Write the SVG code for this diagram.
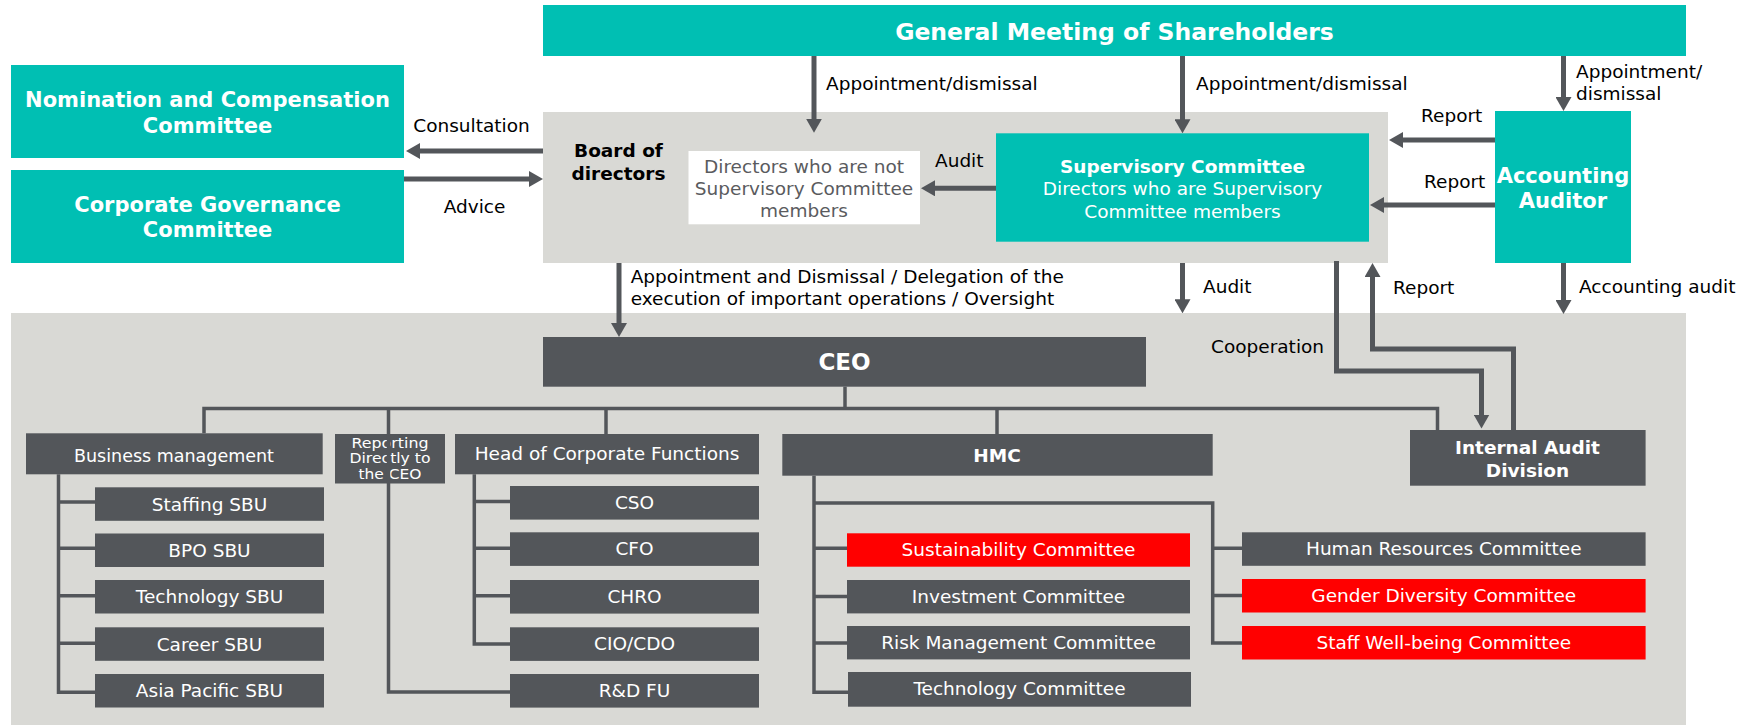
<svg xmlns="http://www.w3.org/2000/svg" width="1746" height="726" viewBox="0 0 1746 726">
  <style>
    text { font-family: "DejaVu Sans", Verdana, sans-serif; }
    .teal { fill: #00BFB3; }
    .dark { fill: #53565A; }
    .red { fill: #FF0000; }
    .bg { fill: #D9D9D5; }
    .white { fill: #FFFFFF; }
    .lbl { font-size: 18.5px; fill: #000; }
    .in { font-size: 18.5px; fill: #FFFFFF; text-anchor: middle; }
    .b { font-weight: bold; }
    .mid { text-anchor: middle; }
    .small { font-size: 13.5px; }
    .conn { stroke: #53565A; stroke-width: 5; fill: none; stroke-linejoin: miter; }
    .tree { stroke: #53565A; stroke-width: 3.5; fill: none; }
  </style>
  <defs>
    <marker id="arr" viewBox="0 0 14 16" refX="4" refY="8" markerWidth="14" markerHeight="16" markerUnits="userSpaceOnUse" orient="auto">
      <path d="M0,0 L14,8 L0,16 z" fill="#53565A"/>
    </marker>
  </defs>

  <!-- background panels -->
  <rect id="board-panel" class="bg" x="543" y="112" width="845" height="151"/>
  <rect id="execution-panel" class="bg" x="11" y="313" width="1675" height="412"/>

  <!-- top governance bodies -->
  <g id="gms">
    <rect class="teal" x="543" y="5" width="1143" height="51"/>
    <text class="in b" x="1114.5" y="40" style="font-size:23.5px">General Meeting of Shareholders</text>
  </g>
  <g id="nomination">
    <rect class="teal" x="11" y="65" width="393" height="93"/>
    <text class="in b" x="207.5" y="107.3" style="font-size:21px">Nomination and Compensation</text>
    <text class="in b" x="207.5" y="133.3" style="font-size:21px">Committee</text>
  </g>
  <g id="governance">
    <rect class="teal" x="11" y="170" width="393" height="93"/>
    <text class="in b" x="207.5" y="211.7" style="font-size:21px">Corporate Governance</text>
    <text class="in b" x="207.5" y="236.7" style="font-size:21px">Committee</text>
  </g>
  <g id="board">
    <text class="lbl b mid" x="618.5" y="157">Board of</text>
    <text class="lbl b mid" x="618.5" y="180">directors</text>
  </g>
  <g id="non-sc-directors">
    <rect class="white" x="688.5" y="151" width="231.5" height="73.3"/>
    <text class="lbl mid" x="804" y="172.7" style="fill:#5A5B5E">Directors who are not</text>
    <text class="lbl mid" x="804" y="195" style="fill:#5A5B5E">Supervisory Committee</text>
    <text class="lbl mid" x="804" y="217.3" style="fill:#5A5B5E">members</text>
  </g>
  <g id="supervisory">
    <rect class="teal" x="996" y="133.3" width="373" height="108.4"/>
    <text class="in b" x="1182.5" y="172.7">Supervisory Committee</text>
    <text class="in" x="1182.5" y="195">Directors who are Supervisory</text>
    <text class="in" x="1182.5" y="217.7">Committee members</text>
  </g>
  <g id="auditor">
    <rect class="teal" x="1495" y="111" width="136" height="152"/>
    <text class="in b" x="1563" y="183.3" style="font-size:21px">Accounting</text>
    <text class="in b" x="1563" y="208.3" style="font-size:21px">Auditor</text>
  </g>

  <!-- execution organisation -->
  <g id="ceo">
    <rect class="dark" x="543" y="337" width="603" height="49.7"/>
    <text class="in b" x="844.5" y="370" style="font-size:23px">CEO</text>
  </g>
  <g id="business-management">
    <rect class="dark" x="26" y="433.3" width="296.7" height="41"/>
    <text class="in" x="174" y="462.3" style="font-size:17.5px">Business management</text>
  </g>
  <g id="staffing-sbu">
    <rect class="dark" x="95" y="487.3" width="229" height="33.5"/>
    <text class="in" x="209.5" y="510.5">Staffing SBU</text>
  </g>
  <g id="bpo-sbu">
    <rect class="dark" x="95" y="533.5" width="229" height="33.5"/>
    <text class="in" x="209.5" y="556.7">BPO SBU</text>
  </g>
  <g id="technology-sbu">
    <rect class="dark" x="95" y="580" width="229" height="33.5"/>
    <text class="in" x="209.5" y="603.2">Technology SBU</text>
  </g>
  <g id="career-sbu">
    <rect class="dark" x="95" y="627.3" width="229" height="33.5"/>
    <text class="in" x="209.5" y="650.5">Career SBU</text>
  </g>
  <g id="asia-pacific-sbu">
    <rect class="dark" x="95" y="674" width="229" height="33.5"/>
    <text class="in" x="209.5" y="697.2">Asia Pacific SBU</text>
  </g>
  <g id="reporting-direct">
    <rect class="dark" x="335" y="434" width="110" height="49.5"/>
    <text class="in small" x="390" y="447.5" textLength="77" lengthAdjust="spacingAndGlyphs">Reporting</text>
    <text class="in small" x="390" y="463" textLength="81" lengthAdjust="spacingAndGlyphs">Directly to</text>
    <text class="in small" x="390" y="478.5" textLength="63" lengthAdjust="spacingAndGlyphs">the CEO</text>
  </g>
  <g id="corporate-functions">
    <rect class="dark" x="455" y="434" width="304" height="40.3"/>
    <text class="in" x="607" y="460">Head of Corporate Functions</text>
  </g>
  <g id="cso">
    <rect class="dark" x="510" y="486" width="249" height="33.6"/>
    <text class="in" x="634.5" y="509">CSO</text>
  </g>
  <g id="cfo">
    <rect class="dark" x="510" y="532.3" width="249" height="33.6"/>
    <text class="in" x="634.5" y="555.3">CFO</text>
  </g>
  <g id="chro">
    <rect class="dark" x="510" y="580" width="249" height="33.6"/>
    <text class="in" x="634.5" y="603">CHRO</text>
  </g>
  <g id="cio-cdo">
    <rect class="dark" x="510" y="627.3" width="249" height="33.6"/>
    <text class="in" x="634.5" y="650.3">CIO/CDO</text>
  </g>
  <g id="rd-fu">
    <rect class="dark" x="510" y="674" width="249" height="33.6"/>
    <text class="in" x="634.5" y="697">R&amp;D FU</text>
  </g>
  <g id="hmc">
    <rect class="dark" x="782.3" y="434" width="430.4" height="41.7"/>
    <text class="in b" x="997" y="461.7">HMC</text>
  </g>
  <g id="sustainability">
    <rect class="red" x="847" y="533.3" width="343" height="33.4"/>
    <text class="in" x="1018.5" y="555.8">Sustainability Committee</text>
  </g>
  <g id="investment">
    <rect class="dark" x="847" y="580" width="343" height="33.4"/>
    <text class="in" x="1018.5" y="602.5">Investment Committee</text>
  </g>
  <g id="risk-management">
    <rect class="dark" x="847" y="626" width="343" height="33.4"/>
    <text class="in" x="1018.5" y="648.5">Risk Management Committee</text>
  </g>
  <g id="technology-committee">
    <rect class="dark" x="848" y="672" width="343" height="34.7"/>
    <text class="in" x="1019.5" y="695">Technology Committee</text>
  </g>
  <g id="human-resources">
    <rect class="dark" x="1242" y="532.3" width="403.6" height="33.5"/>
    <text class="in" x="1443.8" y="554.8">Human Resources Committee</text>
  </g>
  <g id="gender-diversity">
    <rect class="red" x="1242" y="579" width="403.6" height="33.5"/>
    <text class="in" x="1443.8" y="601.5">Gender Diversity Committee</text>
  </g>
  <g id="staff-wellbeing">
    <rect class="red" x="1242" y="626" width="403.6" height="33.5"/>
    <text class="in" x="1443.8" y="648.5">Staff Well-being Committee</text>
  </g>
  <g id="internal-audit">
    <rect class="dark" x="1410" y="430" width="235.6" height="55.7"/>
    <text class="in b" x="1527.5" y="454">Internal Audit</text>
    <text class="in b" x="1527.5" y="476.7">Division</text>
  </g>

  <!-- connectors -->
  <g id="connectors">
    <!-- reporting lines of the organisation tree -->
    <path class="tree" d="M845,386.7 V408.5"/>
    <path class="tree" d="M204,433.3 V408.5 H1437.5 V430"/>
    <path class="tree" d="M388.5,408.5 V692 H510"/>
    <path class="tree" d="M606,408.5 V434"/>
    <path class="tree" d="M997,408.5 V434"/>
    <path class="tree" d="M58.5,474.3 V692.3 H95 M58.5,502 H95 M58.5,548.3 H95 M58.5,595.7 H95 M58.5,643.3 H95"/>
    <path class="tree" d="M474.3,474.3 V644 H510 M474.3,501.5 H510 M474.3,548.3 H510 M474.3,595.7 H510"/>
    <path class="tree" d="M814,475.7 V692.3 H848 M814,548.3 H847 M814,596.5 H847 M814,643 H847"/>
    <path class="tree" d="M814,503 H1212.7 V643 H1242 M1212.7,548.3 H1242 M1212.7,595.5 H1242"/>

    <!-- governance arrows -->
    <line class="conn" x1="543" y1="151" x2="416" y2="151" marker-end="url(#arr)"/>
    <line class="conn" x1="404" y1="179" x2="533" y2="179" marker-end="url(#arr)"/>
    <line class="conn" x1="814" y1="56" x2="814" y2="122.7" marker-end="url(#arr)"/>
    <line class="conn" x1="1182.5" y1="56" x2="1182.5" y2="123.3" marker-end="url(#arr)"/>
    <line class="conn" x1="1563.5" y1="56" x2="1563.5" y2="101" marker-end="url(#arr)"/>
    <line class="conn" x1="996" y1="188.3" x2="931" y2="188.3" marker-end="url(#arr)"/>
    <line class="conn" x1="1495" y1="140" x2="1399" y2="140" marker-end="url(#arr)"/>
    <line class="conn" x1="1495" y1="205" x2="1380" y2="205" marker-end="url(#arr)"/>
    <line class="conn" x1="619" y1="263" x2="619" y2="327" marker-end="url(#arr)"/>
    <line class="conn" x1="1182.5" y1="263" x2="1182.5" y2="303.3" marker-end="url(#arr)"/>
    <line class="conn" x1="1563.5" y1="263" x2="1563.5" y2="304" marker-end="url(#arr)"/>
    <path class="conn" d="M1336.5,261 V371 H1481.5 V418.5" marker-end="url(#arr)"/>
    <path class="conn" d="M1513.5,430 V349 H1372.5 V273" marker-end="url(#arr)"/>

    <!-- connector labels -->
    <text class="lbl mid" x="471.5" y="131.7">Consultation</text>
    <text class="lbl mid" x="474.5" y="212.7">Advice</text>
    <text class="lbl" x="826" y="90">Appointment/dismissal</text>
    <text class="lbl" x="1196" y="90">Appointment/dismissal</text>
    <text class="lbl" x="1576" y="78.3">Appointment/</text>
    <text class="lbl" x="1576" y="100">dismissal</text>
    <text class="lbl" x="935" y="166.7">Audit</text>
    <text class="lbl" x="1421" y="121.7">Report</text>
    <text class="lbl" x="1424" y="188.3">Report</text>
    <text class="lbl" x="630.7" y="283">Appointment and Dismissal / Delegation of the</text>
    <text class="lbl" x="630.7" y="304.5">execution of important operations / Oversight</text>
    <text class="lbl" x="1203" y="292.7">Audit</text>
    <text class="lbl" x="1393" y="294">Report</text>
    <text class="lbl" x="1579" y="293">Accounting audit</text>
    <text class="lbl" x="1211" y="352.7">Cooperation</text>
  </g>
</svg>
